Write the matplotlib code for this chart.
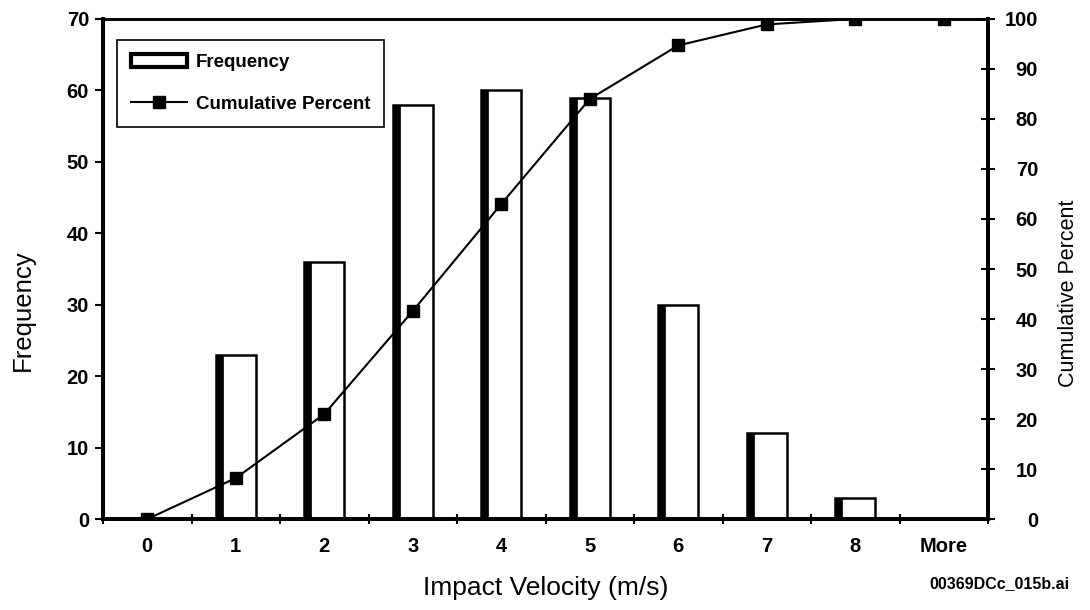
import matplotlib.pyplot as plt
import numpy as np
from matplotlib.patches import Patch
from matplotlib.lines import Line2D

plt.rcParams['font.family'] = ['Liberation Sans', 'DejaVu Sans']

categories = ['0', '1', '2', '3', '4', '5', '6', '7', '8', 'More']
frequency = [0, 23, 36, 58, 60, 59, 30, 12, 3, 0]
cumulative = [0, 8.2, 21.0, 41.6, 63.0, 84.0, 94.7, 98.9, 100, 100]

x = np.arange(len(categories))

fig = plt.figure(figsize=(10.9, 6.1), dpi=100)
ax = fig.add_axes([0.0945, 0.149, 0.812, 0.82])
ax2 = ax.twinx()

# bars: white body with a heavy dark left side
bar_w = 0.45
ax.bar(x, frequency, width=bar_w, color='white', edgecolor='black',
       linewidth=1.8, zorder=2)
ax.bar(x - bar_w / 2 + 0.04, frequency, width=0.08, color='black',
       edgecolor='black', linewidth=0.5, zorder=3)

ax2.plot(x, cumulative, color='black', linewidth=1.5, marker='s',
         markersize=9, zorder=4)

ax.set_xlim(-0.5, len(categories) - 0.5)
ax.set_ylim(0, 70)
ax2.set_ylim(0, 100)
ax.set_yticks(range(0, 71, 10))
ax2.set_yticks(range(0, 101, 10))

ax.set_xticks(x)
ax.set_xticklabels(categories)
ax.set_xticks(np.arange(-0.5, len(categories)), minor=True)
ax.tick_params(axis='x', which='major', length=0, pad=13)
ax.tick_params(axis='x', which='minor', length=7, width=1.5, direction='inout')
ax.tick_params(axis='y', length=6, width=1.5, direction='out', pad=4)
ax2.tick_params(axis='y', length=10, width=1.5, direction='inout', pad=31)

for a in (ax, ax2):
    for lab in a.get_xticklabels() + a.get_yticklabels():
        lab.set_fontsize(14.5)
        lab.set_fontweight('bold')
for lab in ax2.get_yticklabels():
    lab.set_horizontalalignment('right')

for a in (ax, ax2):
    a.spines['left'].set_linewidth(2.8)
    a.spines['right'].set_linewidth(2.8)
    a.spines['bottom'].set_linewidth(2.8)
    a.spines['top'].set_linewidth(2.0)

ax.set_xlabel('Impact Velocity (m/s)', fontsize=19)
ax.xaxis.set_label_coords(0.5, -0.114)
fig.text(23 / 1090, 1 - 310 / 610, 'Frequency', rotation=90,
         ha='center', va='center', fontsize=18.5)
fig.text(1068 / 1090, 1 - 293 / 610, 'Cumulative Percent', rotation=90,
         ha='center', va='center', fontsize=15.5)

handles = [Patch(facecolor='white', edgecolor='black', linewidth=3),
           Line2D([0], [0], color='black', linewidth=1.5, marker='s', markersize=9)]
leg = ax2.legend(handles, ['Frequency', 'Cumulative Percent'],
                 loc='upper left', bbox_to_anchor=(0.016, 0.958),
                 prop={'size': 13.5, 'weight': 'bold'}, fancybox=False,
                 edgecolor='black', framealpha=1, handlelength=3.0,
                 handletextpad=0.45, borderpad=0.75, labelspacing=1.3,
                 borderaxespad=0)
leg.get_frame().set_linewidth(1.2)

fig.text(0.981, 0.044, '00369DCc_015b.ai', ha='right', va='center',
         fontsize=11.5, fontweight='bold')

fig.savefig('out.png', dpi=100)
